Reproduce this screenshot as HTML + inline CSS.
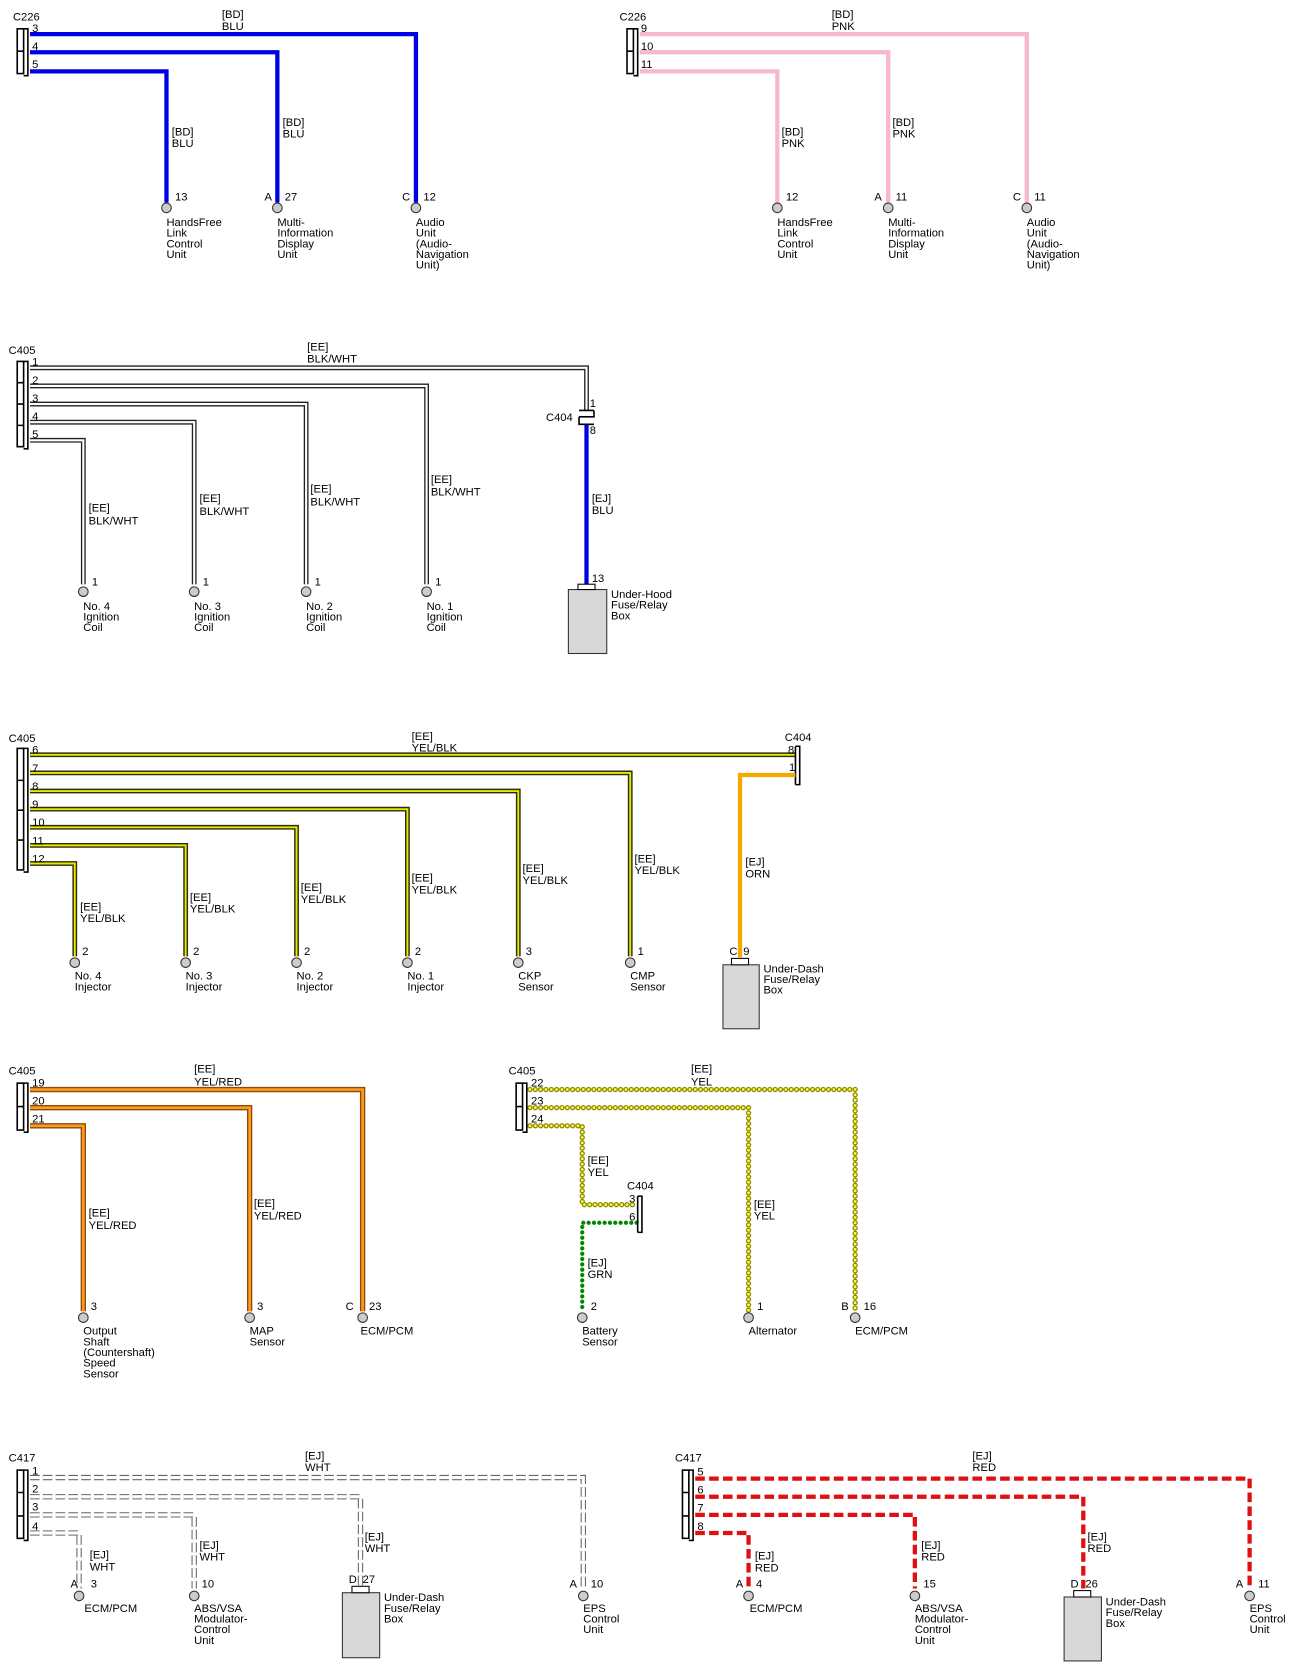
<!DOCTYPE html>
<html><head><meta charset="utf-8"><style>
html,body{margin:0;padding:0;background:#fff}
svg{display:block}
text{font-family:"Liberation Sans",Arial,sans-serif;font-size:10.5px;fill:#000}
</style></head><body>
<svg width="1302" height="1678" viewBox="0 0 1221 1574" xmlns="http://www.w3.org/2000/svg">
<defs>
<g id="conn"></g>
</defs>
<style>
.blu{fill:none;stroke:#0000e6;stroke-width:4}
.pnk{fill:none;stroke:#f7b8c8;stroke-width:4}
.bwo{fill:none;stroke:#222;stroke-width:4.5}
.bwi{fill:none;stroke:#fff;stroke-width:2}
.ybo{fill:none;stroke:#2c2c10;stroke-width:4.5}
.ybi{fill:none;stroke:#e8e800;stroke-width:1.8}
.yro{fill:none;stroke:#8a4a10;stroke-width:5}
.yri{fill:none;stroke:#ff9a1a;stroke-width:2.5}
.orn{fill:none;stroke:#f7a800;stroke-width:4}
.ydo{fill:none;stroke:#8a8a00;stroke-width:5;stroke-dasharray:0 5;stroke-linecap:round}
.ydi{fill:none;stroke:#ffff40;stroke-width:2.6;stroke-dasharray:0 5;stroke-linecap:round}
.gd{fill:none;stroke:#008800;stroke-width:4;stroke-dasharray:0 5;stroke-linecap:round}
.wdo{fill:none;stroke:#666;stroke-width:5;stroke-dasharray:9 3}
.wdi{fill:none;stroke:#fff;stroke-width:3;stroke-dasharray:9 3}
.rd{fill:none;stroke:#e01010;stroke-width:4;stroke-dasharray:9 4}
.term{fill:#ccc;stroke:#333;stroke-width:1}
.cb{fill:none;stroke:#000;stroke-width:1.5}
.box{fill:#d8d8d8;stroke:#333;stroke-width:1}
</style>

<!-- ========== Section 1 BLU ========== -->
<text x="12" y="19">C226</text>
<path class="blu" d="M28 32H390V190M28 49H260V190M28 67H156V190"/>
<rect class="cb" x="16" y="27" width="6" height="42"/><path class="cb" d="M22 27h4v44h-4M16 48h6"/>
<text x="30" y="30">3</text><text x="30" y="47">4</text><text x="30" y="64">5</text>
<text x="208" y="17">[BD]</text><text x="208" y="28">BLU</text>
<text x="161" y="127">[BD]</text><text x="161" y="138">BLU</text>
<text x="265" y="118">[BD]</text><text x="265" y="129">BLU</text>
<circle class="term" cx="156" cy="195" r="4.5"/><circle class="term" cx="260" cy="195" r="4.5"/><circle class="term" cx="390" cy="195" r="4.5"/>
<text x="164" y="188">13</text><text x="248" y="188">A</text><text x="267" y="188">27</text><text x="377" y="188">C</text><text x="397" y="188">12</text>
<text x="156" y="212">HandsFree</text><text x="156" y="222">Link</text><text x="156" y="232">Control</text><text x="156" y="242">Unit</text>
<text x="260" y="212">Multi-</text><text x="260" y="222">Information</text><text x="260" y="232">Display</text><text x="260" y="242">Unit</text>
<text x="390" y="212">Audio</text><text x="390" y="222">Unit</text><text x="390" y="232">(Audio-</text><text x="390" y="242">Navigation</text><text x="390" y="252">Unit)</text>

<!-- ========== Section 1 PNK ========== -->
<text x="581" y="19">C226</text>
<path class="pnk" d="M600 32H963V190M600 49H833V190M600 67H729V190"/>
<rect class="cb" x="588" y="27" width="6" height="42"/><path class="cb" d="M594 27h4v44h-4M588 48h6"/>
<text x="601" y="30">9</text><text x="601" y="47">10</text><text x="601" y="64">11</text>
<text x="780" y="17">[BD]</text><text x="780" y="28">PNK</text>
<text x="733" y="127">[BD]</text><text x="733" y="138">PNK</text>
<text x="837" y="118">[BD]</text><text x="837" y="129">PNK</text>
<circle class="term" cx="729" cy="195" r="4.5"/><circle class="term" cx="833" cy="195" r="4.5"/><circle class="term" cx="963" cy="195" r="4.5"/>
<text x="737" y="188">12</text><text x="820" y="188">A</text><text x="840" y="188">11</text><text x="950" y="188">C</text><text x="970" y="188">11</text>
<text x="729" y="212">HandsFree</text><text x="729" y="222">Link</text><text x="729" y="232">Control</text><text x="729" y="242">Unit</text>
<text x="833" y="212">Multi-</text><text x="833" y="222">Information</text><text x="833" y="232">Display</text><text x="833" y="242">Unit</text>
<text x="963" y="212">Audio</text><text x="963" y="222">Unit</text><text x="963" y="232">(Audio-</text><text x="963" y="242">Navigation</text><text x="963" y="252">Unit)</text>

<!-- ========== Section 2 BLK/WHT ========== -->
<text x="8" y="332">C405</text>
<path class="bwo" d="M28 345H550V385M28 362H400V548M28 379H287V548M28 396H182V548M28 413H78V548"/>
<path class="bwi" d="M28 345H550V385M28 362H400V548M28 379H287V548M28 396H182V548M28 413H78V548"/>
<rect class="cb" x="16" y="339" width="6" height="80"/><path class="cb" d="M22 339h4v82h-4M16 359h6M16 379h6M16 399h6"/>
<text x="30" y="343">1</text><text x="30" y="360">2</text><text x="30" y="377">3</text><text x="30" y="394">4</text><text x="30" y="411">5</text>
<text x="288" y="329">[EE]</text><text x="288" y="340">BLK/WHT</text>
<path class="blu" d="M550 398V548"/>
<path class="cb" d="M543 385h14M543 391h14v-6M543 391v7h14M543 398h14"/>
<text x="512" y="395">C404</text><text x="553" y="382">1</text><text x="553" y="407">8</text>
<text x="555" y="471">[EJ]</text><text x="555" y="482">BLU</text>
<rect class="box" x="533" y="553" width="36" height="60"/><rect x="542" y="548" width="16" height="5" fill="#fff" stroke="#000"/>
<text x="555" y="546">13</text>
<text x="573" y="561">Under-Hood</text><text x="573" y="571">Fuse/Relay</text><text x="573" y="581">Box</text>
<text x="83" y="480">[EE]</text><text x="83" y="492">BLK/WHT</text>
<text x="187" y="471">[EE]</text><text x="187" y="483">BLK/WHT</text>
<text x="291" y="462">[EE]</text><text x="291" y="474">BLK/WHT</text>
<text x="404" y="453">[EE]</text><text x="404" y="465">BLK/WHT</text>
<circle class="term" cx="78" cy="555" r="4.5"/><circle class="term" cx="182" cy="555" r="4.5"/><circle class="term" cx="287" cy="555" r="4.5"/><circle class="term" cx="400" cy="555" r="4.5"/>
<text x="86" y="549">1</text><text x="190" y="549">1</text><text x="295" y="549">1</text><text x="408" y="549">1</text>
<text x="78" y="572">No. 4</text><text x="78" y="582">Ignition</text><text x="78" y="592">Coil</text>
<text x="182" y="572">No. 3</text><text x="182" y="582">Ignition</text><text x="182" y="592">Coil</text>
<text x="287" y="572">No. 2</text><text x="287" y="582">Ignition</text><text x="287" y="592">Coil</text>
<text x="400" y="572">No. 1</text><text x="400" y="582">Ignition</text><text x="400" y="592">Coil</text>

<!-- ========== Section 3 YEL/BLK ========== -->
<text x="8" y="696">C405</text>
<path class="ybo" d="M28 708H746M28 725H591V897M28 742H486V897M28 759H382V897M28 776H278V897M28 793H174V897M28 810H70V897"/>
<path class="ybi" d="M28 708H746M28 725H591V897M28 742H486V897M28 759H382V897M28 776H278V897M28 793H174V897M28 810H70V897"/>
<rect class="cb" x="16" y="702" width="6" height="114"/><path class="cb" d="M22 702h4v116h-4M16 732h6M16 760h6M16 788h6"/>
<text x="30" y="707">6</text><text x="30" y="724">7</text><text x="30" y="741">8</text><text x="30" y="758">9</text><text x="30" y="775">10</text><text x="30" y="792">11</text><text x="30" y="809">12</text>
<text x="386" y="694">[EE]</text><text x="386" y="705">YEL/BLK</text>
<text x="736" y="695">C404</text><text x="739" y="707">8</text><text x="740" y="723">1</text>
<path class="cb" d="M746 700v36M746 700h4v36h-4"/>
<path class="orn" d="M746 727H694V898"/>
<rect class="box" x="678" y="905" width="34" height="60"/><rect x="686" y="899" width="16" height="6" fill="#fff" stroke="#000"/>
<text x="684" y="896">C</text><text x="697" y="896">9</text>
<text x="716" y="912">Under-Dash</text><text x="716" y="922">Fuse/Relay</text><text x="716" y="932">Box</text>
<text x="699" y="812">[EJ]</text><text x="699" y="823">ORN</text>
<text x="75" y="854">[EE]</text><text x="75" y="865">YEL/BLK</text>
<text x="178" y="845">[EE]</text><text x="178" y="856">YEL/BLK</text>
<text x="282" y="836">[EE]</text><text x="282" y="847">YEL/BLK</text>
<text x="386" y="827">[EE]</text><text x="386" y="838">YEL/BLK</text>
<text x="490" y="818">[EE]</text><text x="490" y="829">YEL/BLK</text>
<text x="595" y="809">[EE]</text><text x="595" y="820">YEL/BLK</text>
<circle class="term" cx="70" cy="903" r="4.5"/><circle class="term" cx="174" cy="903" r="4.5"/><circle class="term" cx="278" cy="903" r="4.5"/><circle class="term" cx="382" cy="903" r="4.5"/><circle class="term" cx="486" cy="903" r="4.5"/><circle class="term" cx="591" cy="903" r="4.5"/>
<text x="77" y="896">2</text><text x="181" y="896">2</text><text x="285" y="896">2</text><text x="389" y="896">2</text><text x="493" y="896">3</text><text x="598" y="896">1</text>
<text x="70" y="919">No. 4</text><text x="70" y="929">Injector</text>
<text x="174" y="919">No. 3</text><text x="174" y="929">Injector</text>
<text x="278" y="919">No. 2</text><text x="278" y="929">Injector</text>
<text x="382" y="919">No. 1</text><text x="382" y="929">Injector</text>
<text x="486" y="919">CKP</text><text x="486" y="929">Sensor</text>
<text x="591" y="919">CMP</text><text x="591" y="929">Sensor</text>

<!-- ========== Section 4 YEL/RED ========== -->
<text x="8" y="1008">C405</text>
<path class="yro" d="M28 1022H340V1230M28 1039H234V1230M28 1056H78V1230"/>
<path class="yri" d="M28 1022H340V1230M28 1039H234V1230M28 1056H78V1230"/>
<rect class="cb" x="16" y="1016" width="6" height="44"/><path class="cb" d="M22 1016h4v46h-4M16 1038h6"/>
<text x="30" y="1019">19</text><text x="30" y="1036">20</text><text x="30" y="1053">21</text>
<text x="182" y="1006">[EE]</text><text x="182" y="1018">YEL/RED</text>
<text x="83" y="1141">[EE]</text><text x="83" y="1153">YEL/RED</text>
<text x="238" y="1132">[EE]</text><text x="238" y="1144">YEL/RED</text>
<circle class="term" cx="78" cy="1236" r="4.5"/><circle class="term" cx="234" cy="1236" r="4.5"/><circle class="term" cx="340" cy="1236" r="4.5"/>
<text x="85" y="1229">3</text><text x="241" y="1229">3</text><text x="324" y="1229">C</text><text x="346" y="1229">23</text>
<text x="78" y="1252">Output</text><text x="78" y="1262">Shaft</text><text x="78" y="1272">(Countershaft)</text><text x="78" y="1282">Speed</text><text x="78" y="1292">Sensor</text>
<text x="234" y="1252">MAP</text><text x="234" y="1262">Sensor</text>
<text x="338" y="1252">ECM/PCM</text>

<!-- ========== Section 5 YEL dotted ========== -->
<text x="477" y="1008">C405</text>
<path class="ydo" d="M497 1022H802V1230M497 1039H702V1230M497 1056H546V1130H597"/>
<path class="ydi" d="M497 1022H802V1230M497 1039H702V1230M497 1056H546V1130H597"/>
<path class="gd" d="M597 1147H546V1230"/>
<rect class="cb" x="484" y="1016" width="6" height="44"/><path class="cb" d="M490 1016h4v46h-4M484 1038h6"/>
<text x="498" y="1019">22</text><text x="498" y="1036">23</text><text x="498" y="1053">24</text>
<text x="648" y="1006">[EE]</text><text x="648" y="1018">YEL</text>
<text x="588" y="1116">C404</text><text x="590" y="1128">3</text><text x="590" y="1145">6</text>
<path class="cb" d="M598 1122v34M598 1122h4v34h-4"/>
<text x="551" y="1092">[EE]</text><text x="551" y="1103">YEL</text>
<text x="707" y="1133">[EE]</text><text x="707" y="1144">YEL</text>
<text x="551" y="1188">[EJ]</text><text x="551" y="1199">GRN</text>
<circle class="term" cx="546" cy="1236" r="4.5"/><circle class="term" cx="702" cy="1236" r="4.5"/><circle class="term" cx="802" cy="1236" r="4.5"/>
<text x="554" y="1229">2</text><text x="710" y="1229">1</text><text x="789" y="1229">B</text><text x="810" y="1229">16</text>
<text x="546" y="1252">Battery</text><text x="546" y="1262">Sensor</text>
<text x="702" y="1252">Alternator</text>
<text x="802" y="1252">ECM/PCM</text>

<!-- ========== Section 6 WHT dashed ========== -->
<text x="8" y="1371">C417</text>
<path class="wdo" d="M28 1386H547V1490M28 1404H338V1488M28 1421H182V1490M28 1438H74V1490"/>
<path class="wdi" d="M28 1386H547V1490M28 1404H338V1488M28 1421H182V1490M28 1438H74V1490"/>
<rect class="cb" x="16" y="1379" width="6" height="64"/><path class="cb" d="M22 1379h4v66h-4M16 1400h6M16 1422h6"/>
<text x="30" y="1383">1</text><text x="30" y="1400">2</text><text x="30" y="1417">3</text><text x="30" y="1435">4</text>
<text x="286" y="1369">[EJ]</text><text x="286" y="1380">WHT</text>
<text x="84" y="1462">[EJ]</text><text x="84" y="1473">WHT</text>
<text x="187" y="1453">[EJ]</text><text x="187" y="1464">WHT</text>
<text x="342" y="1445">[EJ]</text><text x="342" y="1456">WHT</text>
<circle class="term" cx="74" cy="1497" r="4.5"/><circle class="term" cx="182" cy="1497" r="4.5"/><circle class="term" cx="547" cy="1497" r="4.5"/>
<rect class="box" x="321" y="1494" width="35" height="61"/><rect x="330" y="1488" width="16" height="6" fill="#fff" stroke="#000"/>
<text x="66" y="1489">A</text><text x="85" y="1489">3</text><text x="189" y="1489">10</text><text x="327" y="1485">D</text><text x="340" y="1485">27</text><text x="534" y="1489">A</text><text x="554" y="1489">10</text>
<text x="79" y="1512">ECM/PCM</text>
<text x="182" y="1512">ABS/VSA</text><text x="182" y="1522">Modulator-</text><text x="182" y="1532">Control</text><text x="182" y="1542">Unit</text>
<text x="360" y="1502">Under-Dash</text><text x="360" y="1512">Fuse/Relay</text><text x="360" y="1522">Box</text>
<text x="547" y="1512">EPS</text><text x="547" y="1522">Control</text><text x="547" y="1532">Unit</text>

<!-- ========== Section 6 RED dashed ========== -->
<text x="633" y="1371">C417</text>
<path class="rd" d="M652 1387H1172V1490M652 1404H1016V1490M652 1421H858V1490M652 1438H702V1490"/>
<rect class="cb" x="640" y="1379" width="6" height="64"/><path class="cb" d="M646 1379h4v66h-4M640 1400h6M640 1422h6"/>
<text x="654" y="1384">5</text><text x="654" y="1401">6</text><text x="654" y="1418">7</text><text x="654" y="1435">8</text>
<text x="912" y="1369">[EJ]</text><text x="912" y="1380">RED</text>
<text x="708" y="1463">[EJ]</text><text x="708" y="1474">RED</text>
<text x="864" y="1453">[EJ]</text><text x="864" y="1464">RED</text>
<text x="1020" y="1445">[EJ]</text><text x="1020" y="1456">RED</text>
<circle class="term" cx="702" cy="1497" r="4.5"/><circle class="term" cx="858" cy="1497" r="4.5"/><circle class="term" cx="1172" cy="1497" r="4.5"/>
<rect class="box" x="998" y="1498" width="35" height="60"/><rect x="1007" y="1492" width="16" height="6" fill="#fff" stroke="#000"/>
<text x="690" y="1489">A</text><text x="709" y="1489">4</text><text x="866" y="1489">15</text><text x="1004" y="1489">D</text><text x="1018" y="1489">26</text><text x="1159" y="1489">A</text><text x="1180" y="1489">11</text>
<text x="703" y="1512">ECM/PCM</text>
<text x="858" y="1512">ABS/VSA</text><text x="858" y="1522">Modulator-</text><text x="858" y="1532">Control</text><text x="858" y="1542">Unit</text>
<text x="1037" y="1506">Under-Dash</text><text x="1037" y="1516">Fuse/Relay</text><text x="1037" y="1526">Box</text>
<text x="1172" y="1512">EPS</text><text x="1172" y="1522">Control</text><text x="1172" y="1532">Unit</text>
</svg>
</body></html>
